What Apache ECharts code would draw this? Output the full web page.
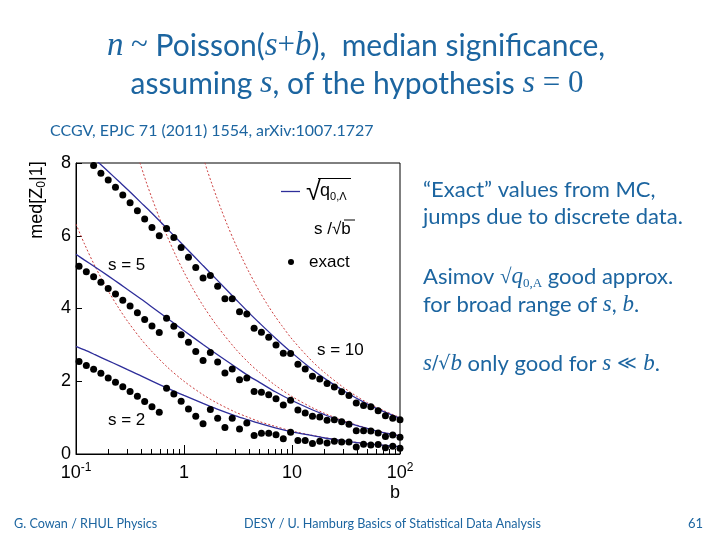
<!DOCTYPE html>
<html><head><meta charset="utf-8">
<script src="https://cdn.jsdelivr.net/npm/echarts@6/dist/echarts.min.js"></script>
<style>html,body{margin:0;padding:0;background:#fff}#c{width:720px;height:540px}</style>
</head><body><div id="c"></div>
<script>
// ---- data ----
const bExact = [0.1067,0.1246,0.1456,0.1700,0.1987,0.2321,0.2712,0.3168,0.3702,0.4324,
  0.5052,0.5902,0.6895,0.8056,0.9412,1.0997,1.2848,1.5010,1.7536,2.0489,
  2.3933,2.7961,3.2666,3.8166,4.4588,5.2096,6.0858,7.1114,8.3082,9.705,
  11.34,13.25,15.47,18.08,21.12,24.68,28.83,33.69,39.35,45.98,
  53.70,62.75,73.31,85.65,100];
const exactS2 = [2.54,2.43,2.33,2.22,2.09,1.97,1.85,1.72,1.59,1.44,
  1.30,1.15,1.81,1.65,1.45,1.24,1.04,0.83,1.22,0.98,
  0.73,0.98,0.69,0.85,0.51,0.57,0.57,0.53,0.42,0.60,
  0.37,0.37,0.29,0.35,0.30,0.35,0.33,0.33,0.19,0.27,
  0.25,0.26,0.17,0.21,0.16];
const exactS5 = [5.16,5.01,4.87,4.72,4.55,4.40,4.23,4.07,3.88,3.70,
  3.52,3.34,3.73,3.51,3.28,3.07,2.82,2.57,2.79,2.53,
  2.23,2.34,2.04,2.09,1.72,1.70,1.63,1.52,1.35,1.48,
  1.21,1.13,1.04,1.02,0.93,0.94,0.89,0.82,0.64,0.64,
  0.63,0.58,0.48,0.52,0.46];
const exactS10 = [null,null,7.93,7.72,7.53,7.33,7.12,6.91,6.69,6.46,
  6.23,6.00,6.20,5.95,5.68,5.41,5.13,4.84,4.91,4.61,
  4.27,4.27,3.91,3.85,3.46,3.35,3.21,3.00,2.77,2.76,
  2.47,2.34,2.14,2.06,1.94,1.84,1.71,1.61,1.40,1.33,
  1.30,1.19,1.05,0.98,0.94];

const bAsimov = [0.1,0.12,0.15,0.2,0.25,0.3,0.4,0.5,0.7,1,1.5,2,3,4,5,7,10,15,20,30,50,70,100];
const asimovS2  = [2.96,2.86,2.73,2.56,2.43,2.32,2.15,2.01,1.81,1.61,1.39,1.24,1.05,0.93,0.84,0.72,0.61,0.51,0.44,0.36,0.28,0.24,0.20];
const asimovS5  = [5.49,5.33,5.14,4.89,4.69,4.52,4.26,4.05,3.73,3.39,3.01,2.75,2.39,2.14,1.97,1.71,1.47,1.23,1.08,0.89,0.70,0.59,0.50];
const asimovS10 = [8.56,8.35,8.10,7.76,7.49,7.27,6.91,6.63,6.19,5.72,5.18,4.80,4.26,3.88,3.60,3.19,2.78,2.35,2.08,1.74,1.37,1.17,0.98];

const bRootS2 = [0.1,0.12,0.15,0.2,0.25,0.3,0.4,0.5,0.7,1,1.5,2,3,4,5,7,10,15,20,30,50,70,100];
const rootS2  = [6.32,5.77,5.16,4.47,4.00,3.65,3.16,2.83,2.39,2.00,1.63,1.41,1.15,1.00,0.89,0.76,0.63,0.52,0.45,0.37,0.28,0.24,0.20];
const bRootS5 = [0.39,0.42,0.45,0.5,0.55,0.6,0.7,0.85,1,1.2,1.5,2,3,4,5,7,10,15,20,30,50,70,100];
const rootS5  = [8.01,7.72,7.45,7.07,6.74,6.45,5.98,5.42,5.00,4.56,4.08,3.54,2.89,2.50,2.24,1.89,1.58,1.29,1.12,0.91,0.71,0.60,0.50];
const bRootS10 = [1.56,1.65,1.8,2,2.2,2.5,3,3.5,4,5,6,7,8,10,15,20,30,40,50,70,100];
const rootS10  = [8.01,7.78,7.45,7.07,6.74,6.32,5.77,5.35,5.00,4.47,4.08,3.78,3.54,3.16,2.58,2.24,1.83,1.58,1.41,1.20,1.00];

const xMinorTicks = [0.2,0.3,0.4,0.5,0.6,0.7,0.8,0.9,2,3,4,5,6,7,8,9,20,30,40,50,60,70,80,90];
const curveLabels = ['s = 2','s = 5','s = 10'];

// ---- helpers ----
const pairs = (xs, ys) => xs.map((x, i) => [x, ys[i]]).filter(p => p[1] != null);
const BLUE_TXT = '#1c65a0';
const NAVY = '#2e2e9a';
const RED = '#cc4040';
const AX = 'Liberation Sans';

const chart = echarts.init(document.getElementById('c'), null, {renderer: 'canvas'});

function lineSeries(name, data, color, dashed) {
  return {name, type: 'line', data, smooth: 0.3, showSymbol: false,
    clip: true, z: dashed ? 2 : 3,
    lineStyle: {color, width: dashed ? 1 : 1.3, type: dashed ? [2, 2] : 'solid'}};
}
function dotSeries(name, data) {
  return {name, type: 'scatter', data, symbol: 'circle', symbolSize: 7, clip: true, z: 5,
    itemStyle: {color: '#000', opacity: 1}};
}

const textStyle = (extra) => Object.assign({fill: '#000', fontFamily: AX, fontSize: 17}, extra);
const blueText = (x, y, text, size) => ({type: 'text', x, y,
  style: {text, fontFamily: 'Lato', fontSize: size, fill: BLUE_TXT, verticalAlign: 'middle'}});

const option = {
  animation: false,
  backgroundColor: '#fff',
  grid: {left: 76, right: 320, top: 163, bottom: 86, show: true, borderColor: '#000', borderWidth: 1},
  xAxis: [{
    type: 'log', logBase: 10, min: 0.1, max: 100,
    axisLine: {lineStyle: {color: '#000', width: 1}},
    axisTick: {inside: true, length: 9, lineStyle: {color: '#000'}},
    splitLine: {show: false},
    axisLabel: {margin: 8, color: '#000',
      formatter: v => {
        if (Math.abs(v - 0.1) < 1e-9) return '{b|10}{s|-1}';
        if (Math.abs(v - 100) < 1e-6) return '{b|10}{s|2}';
        return '{b|' + Math.round(v) + '}';
      },
      rich: {b: {fontFamily: AX, fontSize: 18, color: '#000', lineHeight: 22},
             s: {fontFamily: AX, fontSize: 12, color: '#000', verticalAlign: 'top', lineHeight: 12}}}
  }, {
    type: 'log', logBase: 10, min: 0.1, max: 100, position: 'bottom',
    axisLine: {show: false}, axisLabel: {show: false}, splitLine: {show: false},
    axisTick: {inside: true, length: 5, customValues: xMinorTicks, lineStyle: {color: '#000'}}
  }],
  yAxis: {
    type: 'value', min: 0, max: 8, interval: 2,
    axisLine: {show: true, lineStyle: {color: '#000'}},
    axisTick: {show: true, inside: true, length: 6, lineStyle: {color: '#000'}},
    splitLine: {show: false},
    axisLabel: {fontFamily: AX, fontSize: 18, color: '#000', margin: 5}
  },
  series: [
    lineSeries('rootS2', pairs(bRootS2, rootS2), RED, true),
    lineSeries('rootS5', pairs(bRootS5, rootS5), RED, true),
    lineSeries('rootS10', pairs(bRootS10, rootS10), RED, true),
    lineSeries('asimovS2', pairs(bAsimov, asimovS2), NAVY, false),
    lineSeries('asimovS5', pairs(bAsimov, asimovS5), NAVY, false),
    lineSeries('asimovS10', pairs(bAsimov, asimovS10), NAVY, false),
    dotSeries('exactS2', pairs(bExact, exactS2)),
    dotSeries('exactS5', pairs(bExact, exactS5)),
    dotSeries('exactS10', pairs(bExact, exactS10))
  ],
  graphic: [
    // slide title
    {type: 'text', x: 356, y: 46, style: {
      text: '{i|n}{r| }{m|~}{r| Poisson(}{i|s}{m|+}{i|b}{r|),  median significance,}',
      align: 'center', verticalAlign: 'middle',
      rich: {i: {fontFamily: 'Liberation Serif', fontStyle: 'italic', fontSize: 33, fill: BLUE_TXT},
             m: {fontFamily: 'Liberation Serif', fontSize: 31, fill: BLUE_TXT},
             r: {fontFamily: 'Lato', fontSize: 30, fill: BLUE_TXT}}}},
    {type: 'text', x: 357, y: 84, style: {
      text: '{r|assuming }{i|s}{r|, of the hypothesis }{i|s}{m| = 0}',
      align: 'center', verticalAlign: 'middle',
      rich: {i: {fontFamily: 'Liberation Serif', fontStyle: 'italic', fontSize: 32, fill: BLUE_TXT},
             m: {fontFamily: 'Liberation Serif', fontSize: 31, fill: BLUE_TXT},
             r: {fontFamily: 'Lato', fontSize: 30, fill: BLUE_TXT}}}},
    blueText(50, 131, 'CCGV, EPJC 71 (2011) 1554, arXiv:1007.1727', 16),
    // right-hand notes
    blueText(423, 190, '“Exact” values from MC,', 22),
    blueText(423, 217, 'jumps due to discrete data.', 22),
    {type: 'text', x: 423, y: 277, style: {
      text: '{r|Asimov }{m|√}{i|q}{sub|0,A}{r| good approx.}', verticalAlign: 'middle',
      rich: {r: {fontFamily: 'Lato', fontSize: 22, fill: BLUE_TXT, lineHeight: 26},
             m: {fontFamily: 'Liberation Serif', fontSize: 21, fill: BLUE_TXT},
             i: {fontFamily: 'Liberation Serif', fontStyle: 'italic', fontSize: 23, fill: BLUE_TXT},
             sub: {fontFamily: 'Liberation Serif', fontSize: 13, fill: BLUE_TXT, verticalAlign: 'bottom', lineHeight: 14}}}},
    {type: 'text', x: 423, y: 305, style: {
      text: '{r|for broad range of }{i|s}{r|, }{i|b}{r|.}', verticalAlign: 'middle',
      rich: {r: {fontFamily: 'Lato', fontSize: 22, fill: BLUE_TXT},
             i: {fontFamily: 'Liberation Serif', fontStyle: 'italic', fontSize: 23, fill: BLUE_TXT}}}},
    {type: 'text', x: 423, y: 364, style: {
      text: '{i|s}{m|/√}{i|b}{r| only good for }{i|s}{m| ≪ }{i|b}{r|.}', verticalAlign: 'middle',
      rich: {r: {fontFamily: 'Lato', fontSize: 22, fill: BLUE_TXT},
             m: {fontFamily: 'DejaVu Serif', fontSize: 19, fill: BLUE_TXT},
             i: {fontFamily: 'Liberation Serif', fontStyle: 'italic', fontSize: 23, fill: BLUE_TXT}}}},
    // footer
    Object.assign(blueText(14, 524, 'G. Cowan / RHUL Physics', 13), {scaleX: 0.97}),
    Object.assign(blueText(244, 524, 'DESY / U. Hamburg Basics of Statistical Data Analysis', 13), {scaleX: 0.97}),
    {type: 'text', x: 703, y: 524, style: {text: '61', fontFamily: 'Lato', fontSize: 13, fill: BLUE_TXT, align: 'right', verticalAlign: 'middle'}},
    // axis titles
    {type: 'text', x: 37, y: 200, rotation: Math.PI / 2, style: {
      text: '{a|med[Z}{s|0}{a||1]}', align: 'center', verticalAlign: 'middle',
      rich: {a: {fontFamily: AX, fontSize: 18, fill: '#000', lineHeight: 22},
             s: {fontFamily: AX, fontSize: 12, fill: '#000', verticalAlign: 'bottom', lineHeight: 12}}}},
    {type: 'text', x: 395, y: 493, style: textStyle({text: 'b', fontSize: 18, align: 'center', verticalAlign: 'middle'})},
    // curve labels
    {type: 'text', x: 108, y: 265, style: textStyle({text: curveLabels[1], verticalAlign: 'middle'})},
    {type: 'text', x: 108, y: 420, style: textStyle({text: curveLabels[0], verticalAlign: 'middle'})},
    {type: 'text', x: 317, y: 350, style: textStyle({text: curveLabels[2], verticalAlign: 'middle'})},
    // legend
    {type: 'line', shape: {x1: 281, y1: 191.5, x2: 300, y2: 191.5}, style: {stroke: NAVY, lineWidth: 1.3}},
    {type: 'text', x: 306, y: 193, style: textStyle({text: '√', fontSize: 27, verticalAlign: 'middle'})},
    {type: 'line', shape: {x1: 318, y1: 178.5, x2: 351, y2: 178.5}, style: {stroke: '#000', lineWidth: 1}},
    {type: 'text', x: 320, y: 191, style: {text: '{q|q}{s|0,Λ}', verticalAlign: 'middle',
      rich: {q: {fontFamily: AX, fontSize: 18, fill: '#000', lineHeight: 22},
             s: {fontFamily: AX, fontSize: 11, fill: '#000', verticalAlign: 'bottom', lineHeight: 11}}}},
    {type: 'text', x: 314, y: 229, style: textStyle({text: 's /√b', verticalAlign: 'middle'})},
    {type: 'line', shape: {x1: 344, y1: 220, x2: 355, y2: 220}, style: {stroke: '#000', lineWidth: 1}},
    {type: 'circle', shape: {cx: 291, cy: 262, r: 3}, style: {fill: '#000'}},
    {type: 'text', x: 309, y: 262, style: textStyle({text: 'exact', verticalAlign: 'middle'})}
  ]
};
chart.setOption(option);
</script></body></html>
